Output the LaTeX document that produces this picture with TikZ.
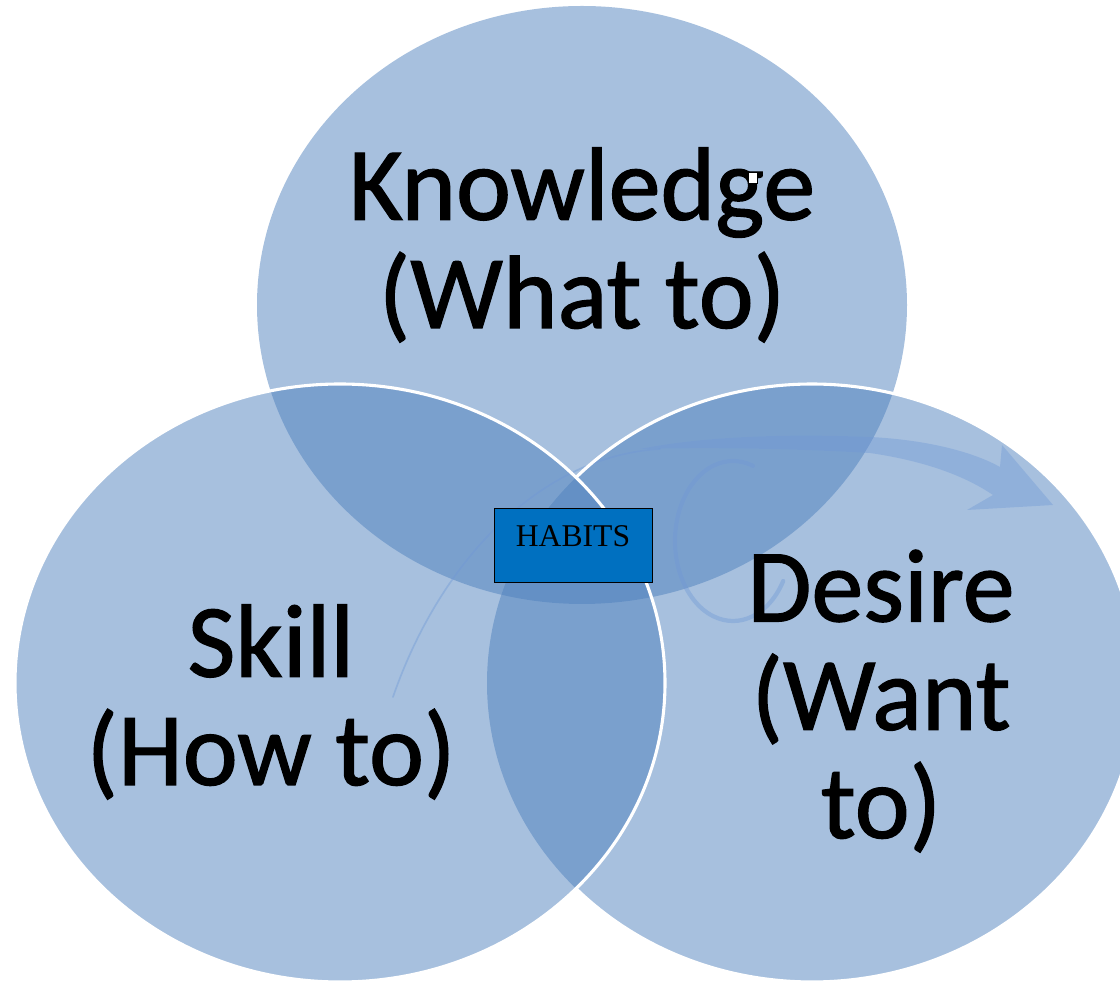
\documentclass[tikz,border=0pt]{standalone}
\usepackage{fontspec}
\setmainfont{Carlito}[FakeBold=1.2]
\newfontfamily\habfont{Liberation Serif}
\usepackage{tikz}
\usetikzlibrary{arrows.meta}
\definecolor{vennblue}{HTML}{4F81BD}
\definecolor{habblue}{HTML}{0070C0}
\definecolor{swoosh}{HTML}{6F98D6}
\tikzset{
  venn/.style={fill=vennblue,fill opacity=0.5},
  rim/.style={draw=white,line width=2.2pt},
  swooshline/.style={draw=swoosh,opacity=0.4,line cap=round},
  bigtext/.style={align=center,anchor=base,font=\fontsize{74}{77}\selectfont},
  habbox/.style={draw=black,fill=habblue,line width=0.6pt,minimum width=3.95cm,inner sep=0.2cm,
    text height=0.775cm,text depth=0.675cm,font=\habfont\fontsize{22.5}{27}\selectfont}
}

\begin{document}
\begin{tikzpicture}[x=0.025cm,y=0.025cm]
\useasboundingbox (0,0) rectangle (1120,981);
\clip (0,0) rectangle (1120,981);
% the three sets
\path[venn] (582,676) ellipse [x radius=325,y radius=299];
\path[venn] (812,298) ellipse [x radius=325,y radius=299];
\path[venn] (340,298) ellipse [x radius=325,y radius=299];
% faint cycle arrow behind the middle
\draw[swooshline,line width=1.2pt] (393,284) .. controls (440,420) and (540,525) .. (660,532);
\fill[swoosh,opacity=0.4] (640,532) .. controls (720,548) and (820,546) .. (870,544)
  .. controls (930,541) and (975,528) .. (1000,514) -- (1002,536) -- (1053,476) -- (967,471) -- (993,486)
  .. controls (965,505) and (925,520) .. (870,528) .. controls (800,532) and (720,534) .. (640,532) -- cycle;
\draw[swooshline,line width=3pt] (733,440) ++(70:58 and 80) arc[start angle=70,end angle=330,x radius=58,y radius=80];
% white rims
\draw[rim] (812,298) ++(-136.5:325 and 299) arc[start angle=-136.5,end angle=136.5,x radius=325,y radius=299];
\draw[rim] (340,298) ellipse [x radius=325,y radius=299];
% labels
\path (582,653) node(know) [bigtext] {Knowledge\\(What to)};
\path (271,196) node(skill) [bigtext] {Skill\\(How to)};
\path (881,143) node(desire) [bigtext] {Desire\\(Want\\to)};
\path (573,436) node(habits) [habbox] {HABITS};
\path (752.5,803.5) node(handle) [draw=black,fill=white,line width=0.4pt,minimum width=0.225cm,minimum height=0.275cm,inner sep=0pt] {};
\end{tikzpicture}
\end{document}
